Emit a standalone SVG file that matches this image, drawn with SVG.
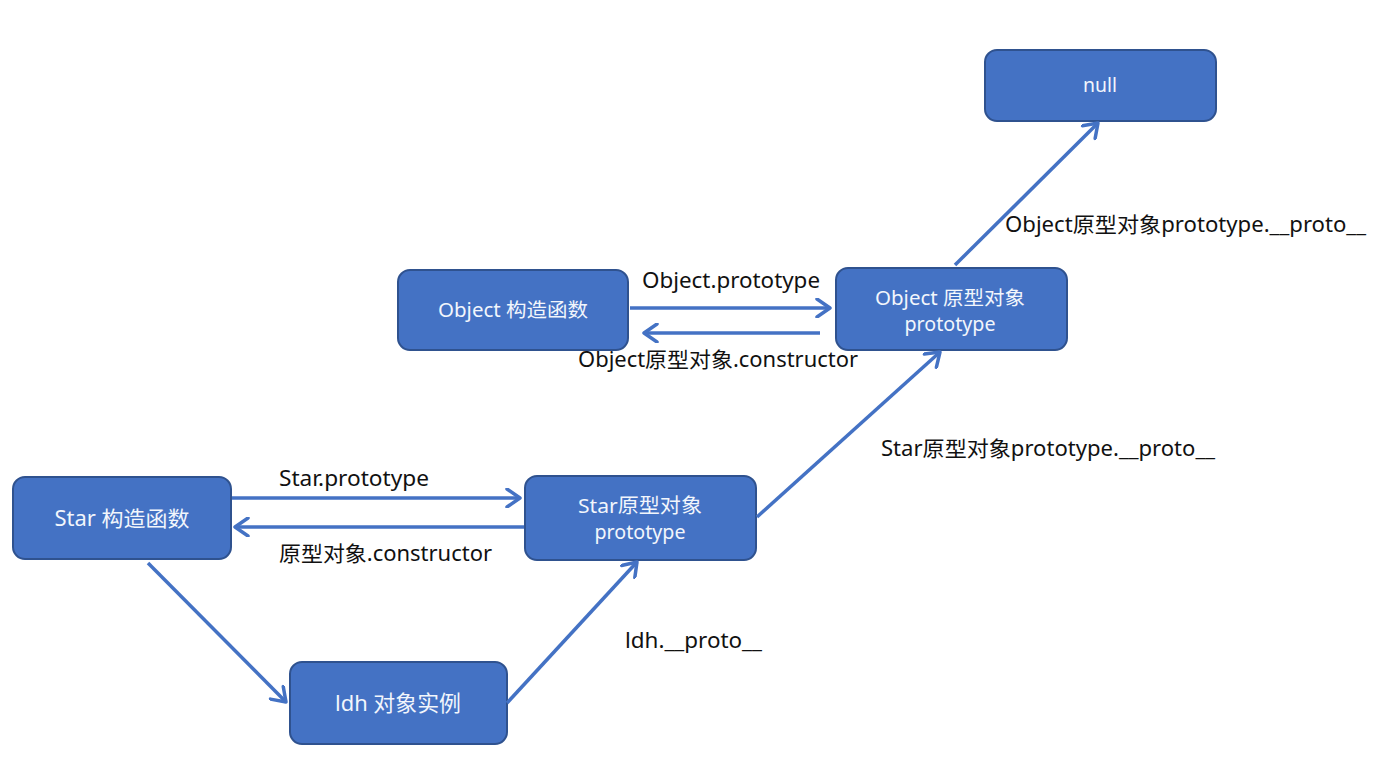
<svg xmlns="http://www.w3.org/2000/svg" width="1385" height="770" viewBox="0 0 1385 770">
<style>
.box{fill:#4472C4;stroke:#2F528F;stroke-width:2}
.nt{fill:#F2F6FC;font-family:"Noto Sans","Noto Sans CJK SC",sans-serif;text-anchor:middle}
.lbl{fill:#111;font-family:"Noto Sans","Noto Sans CJK SC",sans-serif;font-size:21px}
.ln{stroke:#4472C4;stroke-width:3.5;fill:none;marker-end:url(#ah)}
</style>
<defs>
<marker id="ah" markerUnits="userSpaceOnUse" viewBox="-16 -10 20 20" refX="0" refY="0" markerWidth="20" markerHeight="20" orient="auto">
<path d="M-13,-9 L0,0 L-13,9" fill="none" stroke="#4472C4" stroke-width="3.5" stroke-linecap="round" stroke-linejoin="round"/>
</marker>
</defs>
<rect width="1385" height="770" fill="#fff"/>
<g id="null">
<rect class="box" x="985" y="50" width="231" height="71" rx="12"/>
<text class="nt" x="1100" y="92" font-size="20" textLength="34" lengthAdjust="spacingAndGlyphs">null</text>
</g>
<g id="object-ctor">
<rect class="box" x="398" y="270" width="230" height="80" rx="12"/>
<text class="nt" x="513" y="317" font-size="19.5" textLength="150" lengthAdjust="spacingAndGlyphs">Object 构造函数</text>
</g>
<g id="object-proto">
<rect class="box" x="836" y="268" width="231" height="82" rx="12"/>
<text class="nt" x="950" y="305" font-size="19.5" textLength="150" lengthAdjust="spacingAndGlyphs">Object 原型对象</text>
<text class="nt" x="950" y="331" font-size="19" textLength="91" lengthAdjust="spacingAndGlyphs">prototype</text>
</g>
<g id="star-ctor">
<rect class="box" x="13" y="477" width="218" height="82" rx="12"/>
<text class="nt" x="122" y="526" font-size="21" textLength="135" lengthAdjust="spacingAndGlyphs">Star 构造函数</text>
</g>
<g id="star-proto">
<rect class="box" x="525" y="476" width="231" height="84" rx="12"/>
<text class="nt" x="640" y="513" font-size="20.5" textLength="124" lengthAdjust="spacingAndGlyphs">Star原型对象</text>
<text class="nt" x="640" y="539" font-size="19" textLength="91" lengthAdjust="spacingAndGlyphs">prototype</text>
</g>
<g id="ldh">
<rect class="box" x="290" y="662" width="217" height="82" rx="12"/>
<text class="nt" x="398" y="711" font-size="21.5" textLength="126" lengthAdjust="spacingAndGlyphs">ldh 对象实例</text>
</g>
<g id="connectors">
<line class="ln" x1="630" y1="308" x2="830" y2="308"/>
<line class="ln" x1="820" y1="333" x2="644" y2="333"/>
<line class="ln" x1="232" y1="498" x2="520" y2="498"/>
<line class="ln" x1="524" y1="527" x2="235" y2="527"/>
<line class="ln" x1="148" y1="563" x2="286" y2="702"/>
<line class="ln" x1="507" y1="703" x2="637" y2="562"/>
<line class="ln" x1="757" y1="517" x2="940" y2="352"/>
<line class="ln" x1="955" y1="265" x2="1098" y2="123"/>
</g>
<g id="labels">
<text class="lbl" x="642" y="288" textLength="178" lengthAdjust="spacingAndGlyphs">Object.prototype</text>
<text class="lbl" x="578" y="367" textLength="280" lengthAdjust="spacingAndGlyphs">Object原型对象.constructor</text>
<text class="lbl" x="279" y="486" textLength="150" lengthAdjust="spacingAndGlyphs">Star.prototype</text>
<text class="lbl" x="279" y="561" textLength="213" lengthAdjust="spacingAndGlyphs">原型对象.constructor</text>
<text class="lbl" x="625" y="648" textLength="137" lengthAdjust="spacingAndGlyphs">ldh.__proto__</text>
<text class="lbl" x="881" y="456" textLength="334" lengthAdjust="spacingAndGlyphs">Star原型对象prototype.__proto__</text>
<text class="lbl" x="1005" y="232" textLength="361" lengthAdjust="spacingAndGlyphs">Object原型对象prototype.__proto__</text>
</g>
</svg>
